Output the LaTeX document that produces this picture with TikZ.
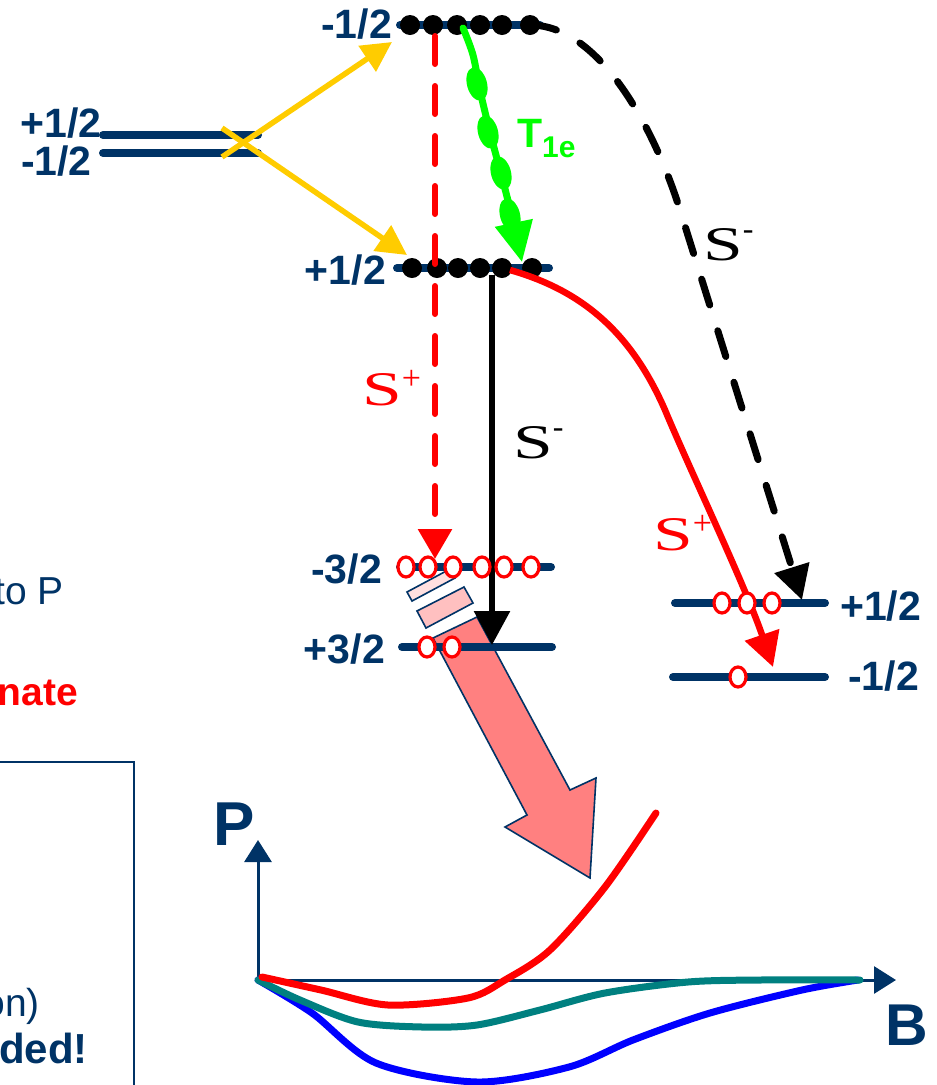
\documentclass[tikz,border=0pt]{standalone}
\usepackage{fontspec}
\usepackage{graphicx}
\setmainfont{Liberation Sans}
\newfontfamily\serifS{Liberation Serif}
\usetikzlibrary{arrows.meta,shapes.geometric}
\definecolor{navy}{RGB}{0,51,102}
\definecolor{gold}{RGB}{255,204,0}
\definecolor{pinkA}{RGB}{255,128,128}
\definecolor{pinkB}{RGB}{255,192,192}
\definecolor{pinkC}{RGB}{255,224,224}
\definecolor{tealC}{RGB}{0,128,128}
\definecolor{limeG}{RGB}{0,255,0}
\newcommand{\bigS}{\scalebox{1.55}[1.05]{S}}
\newcommand{\supP}{\raisebox{16pt}{\fontsize{34}{34}\selectfont+}}
\newcommand{\supM}{\raisebox{21pt}{\fontsize{32}{32}\selectfont -}}
\begin{document}
\begin{tikzpicture}[x=1pt,y=-1pt,
  level/.style={navy, line width=8pt, line cap=round},
  lab/.style={font=\fontsize{41}{41}\selectfont\bfseries, text=navy, inner sep=0pt},
  slab/.style={font=\serifS\fontsize{46}{46}\selectfont, inner sep=0pt, anchor=base west},
  dotE/.style={circle, fill=black, inner sep=0pt, minimum size=20pt},
  hole/.style={ellipse, draw=red, fill=white, line width=3.2pt, inner sep=0pt, minimum width=16pt, minimum height=20pt},
  ytip/.style={-{Triangle[length=30pt,width=30pt]}},
  btip/.style={-{Triangle[length=34pt,width=35pt]}},
  axis/.style={navy, line width=3pt, -{Triangle[length=22pt,width=27pt]}},
  curve/.style={line width=7pt, line cap=round, line join=round}
]
\useasboundingbox (0,0) rectangle (937,1085);

% ---------- left cut-off texts and box ----------
\node[font=\fontsize{39}{39}\selectfont, text=navy, anchor=base east, inner sep=0pt] (tP) at (64,604) {to P};
\node[font=\fontsize{39}{39}\selectfont\bfseries, text=red, anchor=base east, inner sep=0pt] (nate) at (78,705) {nate};
\draw[navy, line width=2pt] (-10,762) -- (134,762) -- (134,1095);
\node[font=\fontsize{39}{39}\selectfont, text=navy, anchor=base east, inner sep=0pt] (on) at (40,1016) {on)};
\node[font=\fontsize{42}{42}\selectfont\bfseries, text=navy, anchor=base east, inner sep=0pt] (ded) at (88,1063) {ded!};

% ---------- coordinates ----------
\coordinate (LaL) at (103,135); \coordinate (LaR) at (258,135);
\coordinate (LbL) at (103,153); \coordinate (LbR) at (258,153);
\coordinate (L1L) at (400,25);  \coordinate (L1R) at (540,25);
\coordinate (L2L) at (397,268); \coordinate (L2R) at (549,268);
\coordinate (L3L) at (400,567); \coordinate (L3R) at (551,567);
\coordinate (L4L) at (402,647); \coordinate (L4R) at (552,647);
\coordinate (R1L) at (675,603); \coordinate (R1R) at (825,603);
\coordinate (R2L) at (673,677); \coordinate (R2R) at (825,677);

% ---------- big pink arrow and bars ----------
\draw[navy, line width=1.6pt, fill=pinkC] (407,592) -- (412,601) -- (455,578) -- (450,569) -- cycle;
\draw[navy, line width=1.6pt, fill=pinkB] (417,611) -- (426,628) -- (473,603) -- (464,587) -- cycle;
\draw[navy, line width=1.6pt, fill=pinkA] (433,638) -- (477,617) -- (570,790) -- (596,778) -- (590,878) -- (505,827) -- (527,815) -- cycle;

% ---------- levels ----------
\draw[level] (LaL) -- (LaR);
\draw[level] (LbL) -- (LbR);
\draw[level] (L1L) -- (L1R);
\draw[level] (L2L) -- (L2R);
\draw[level] (L3L) -- (L3R);
\draw[level] (L4L) -- (L4R);
\draw[level] (R1L) -- (R1R);
\draw[level] (R2L) -- (R2R);

% ---------- level labels ----------
\node[lab, anchor=base east] (la) at (102,137) {+1/2};
\node[lab, anchor=base east] (lb) at (92,175) {-1/2};
\node[lab, anchor=base east] (l1) at (392,38) {-1/2};
\node[lab, anchor=base east] (l2) at (386,284) {+1/2};
\node[lab, anchor=base east] (l3) at (382,583) {-3/2};
\node[lab, anchor=base east] (l4) at (385,663) {+3/2};
\node[lab, anchor=base west] (r1) at (840,620) {+1/2};
\node[lab, anchor=base west] (r2) at (848,690) {-1/2};

% ---------- yellow splitting arrows ----------
\coordinate (Ya) at (222,157); \coordinate (Yb) at (222,128);
\coordinate (YaT) at (392,42); \coordinate (YbT) at (407,255);
\draw[gold, line width=5.5pt, ytip] (Ya) -- (YaT);
\draw[gold, line width=5.5pt, ytip] (Yb) -- (YbT);

% ---------- electrons (filled dots) ----------
\foreach \x [count=\i] in {410,433,457,480,502,530} \node[dotE] (a\i) at (\x,25) {};
\foreach \x [count=\i] in {412,437,458,480,502,532} \node[dotE] (b\i) at (\x,268) {};

% ---------- black dashed S- (top to right +1/2) ----------
\coordinate (Kmid) at (680,210);
\coordinate (Ktip) at (802,600);
\draw[black, line width=7pt, line cap=round, dash pattern=on 27pt off 27pt, btip]
  (a6.center) .. controls (600,25) and (655,130) .. (Kmid) -- (Ktip);
\node[slab] (Sm2) at (703,260) {\bigS\supM};

% ---------- black solid S- ----------
\coordinate (Ktip2) at (492,645);
\draw[black, line width=6pt, btip] (492,275) -- (Ktip2);
\node[slab] (Sm1) at (513,458) {\bigS\supM};

% ---------- red solid S+ curve ----------
\coordinate (Rmid) at (665,410);
\coordinate (Rtip) at (773,667);
\draw[red, line width=6.5pt, btip] (b5.center) ++(8,2) .. controls (580,290) and (630,330) .. (Rmid) .. controls (690,470) and (745,585) .. (Rtip);
\node[slab, text=red] (Sp2) at (653,550) {\bigS\supP};

% ---------- holes ----------
\foreach \x [count=\i] in {406,428,453,482,504,531} \node[hole] (c\i) at (\x,567) {};
\foreach \x [count=\i] in {427,452} \node[hole] (d\i) at (\x,647) {};
\foreach \x [count=\i] in {722,747,772} \node[hole] (e\i) at (\x,603) {};
\node[hole] (f1) at (738,677) {};

% ---------- red dashed S+ ----------
\coordinate (Dtip) at (435,559);
\draw[red, line width=6pt, line cap=round, dash pattern=on 28pt off 22pt, -{Triangle[length=30pt,width=33pt]}] (435,36) -- (Dtip);
\node[slab, text=red] (Sp1) at (362,405) {\bigS\supP};

% ---------- green T1e ----------
\draw[limeG, line width=7pt, line cap=round, -{Triangle[length=40pt,width=37pt]}]
  plot[smooth] coordinates {(463,28) (473,55) (481,95) (492,140) (504,185) (514,225) (522,262)};
\foreach \p/\q in {477/84, 488/132, 501/173, 510/215}
  \fill[limeG, rotate around={15:(\p,\q)}] (\p,\q) ellipse [x radius=10pt, y radius=17pt];
\node[font=\fontsize{41}{41}\selectfont\bfseries, text=limeG, anchor=base west, inner sep=0pt] (T1e) at (517,147) {T\raisebox{-10pt}{\fontsize{30}{30}\selectfont 1e}};

% ---------- P(B) graph ----------
\coordinate (O) at (258,980);
\coordinate (Ptop) at (258,840);
\coordinate (Bend) at (896,980);
\draw[axis] (O) -- (Ptop);
\draw[axis] (O) -- (Bend);
\node[font=\fontsize{62}{62}\selectfont\bfseries, text=navy, anchor=base west, inner sep=0pt] (P) at (213,845) {P};
\node[font=\fontsize{59}{59}\selectfont\bfseries, text=navy, anchor=base west, inner sep=0pt] (B) at (885,1045) {B};

\draw[curve, blue] plot[smooth] coordinates {(258,980) (312,1013) (376,1063) (477,1082) (569,1067) (633,1040) (710,1013) (802,990) (858,980)};
\draw[curve, tealC] plot[smooth] coordinates {(258,980) (300,1000) (358,1022) (422,1027) (477,1025) (540,1010) (605,993) (688,982) (760,980) (860,980)};
\draw[curve, red] plot[smooth] coordinates {(262,977) (321,990) (388,1005) (468,998) (505,980) (550,950) (605,887) (656,813)};
\end{tikzpicture}
\end{document}
